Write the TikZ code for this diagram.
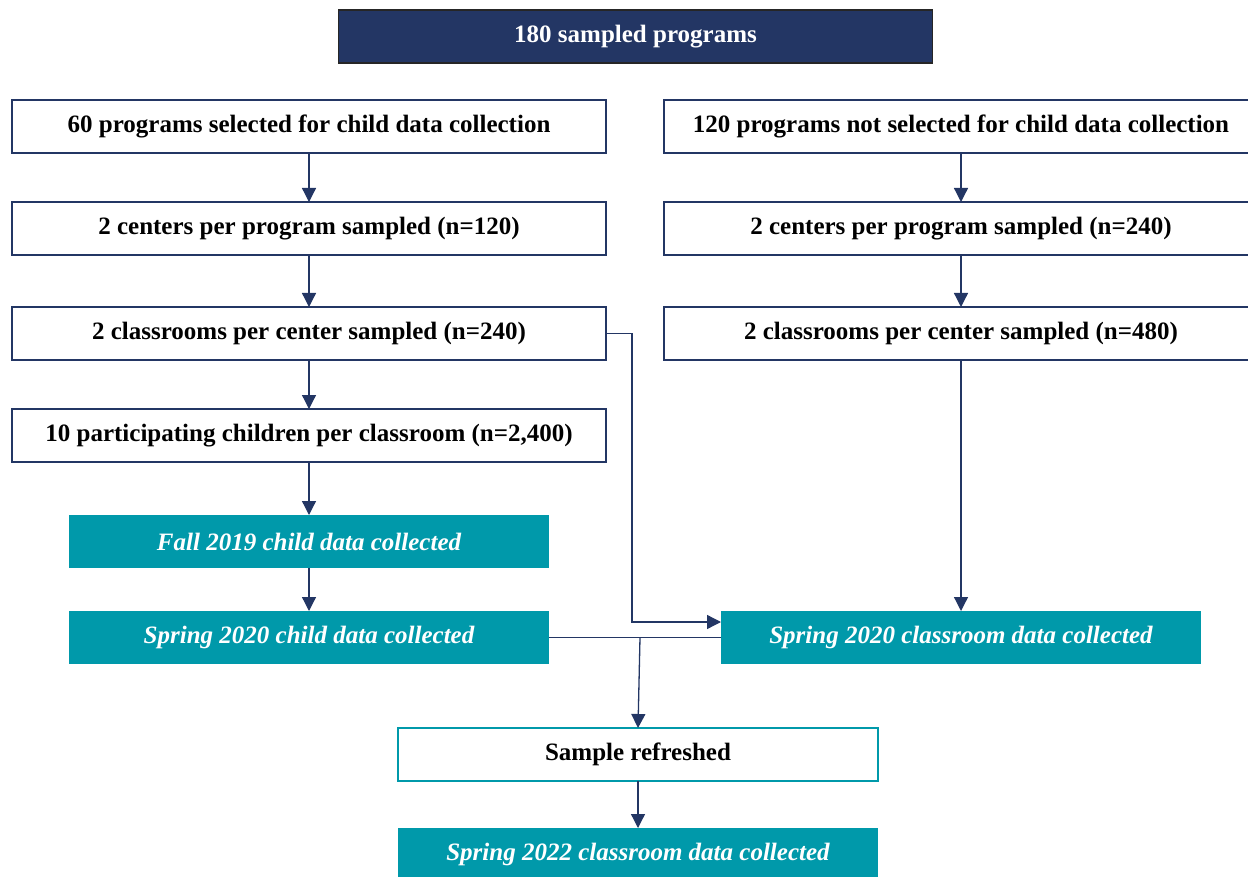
\documentclass[tikz,border=0pt]{standalone}
\usepackage{fontspec}
\setmainfont{Liberation Serif}
\usetikzlibrary{arrows.meta,positioning}
\definecolor{navy}{RGB}{35,54,100}
\definecolor{collteal}{RGB}{0,153,170}

\begin{document}
\begin{tikzpicture}[x=1pt,y=-1pt,>={Triangle[width=14pt,length=14pt]},
    every node/.style={font=\fontsize{25}{29}\selectfont\bfseries,inner sep=0pt,outer sep=0pt},
    prog/.style={draw=navy,line width=1.5pt,fill=white,minimum width=594pt,minimum height=53pt},
    head/.style={prog,draw=black!85,fill=navy,text=white},
    coll/.style={fill=collteal,text=white,font=\fontsize{25}{29}\selectfont\bfseries\itshape,
      minimum width=480pt,minimum height=53pt},
    refresh/.style={draw=collteal,line width=1.5pt,minimum width=480pt,minimum height=53pt},
    line/.style={draw=navy,line width=1.3pt},
    every edge/.style={line,->}]

  \useasboundingbox (0,0) rectangle (1248,877);

  \node[head] (0) at (635.5,36.5) {180 sampled programs};

  \node[prog] (1) at (309,126.5) {60 programs selected for child data collection};
  \node[prog] (2) [below=49pt of 1] {2 centers per program sampled (n=120)};
  \node[prog] (3) [below=52pt of 2] {2 classrooms per center sampled (n=240)};
  \node[prog] (4) [below=49pt of 3] {10 participating children per classroom (n=2,400)};
  \node[coll] (5) [below=53pt of 4] {Fall 2019 child data collected};
  \node[coll] (9) [below=43pt of 5] {Spring 2020 child data collected};

  \node[prog] (6) at (961,126.5) {120 programs not selected for child data collection};
  \node[prog] (7) [below=49pt of 6] {2 centers per program sampled (n=240)};
  \node[prog] (8) [below=52pt of 7] {2 classrooms per center sampled (n=480)};
  \node[coll] (10) [right=172pt of 9] {Spring 2020 classroom data collected};

  \node[refresh] (11) at (638,754.5) {Sample refreshed};
  \node[coll] (12) [below=47pt of 11] {Spring 2022 classroom data collected};

  \coordinate (j) at (640,637.5);

  \path (1) edge (2)
  (2) edge (3)
  (3) edge (4)
  (4) edge (5)
  (5) edge (9);
  \path (6) edge (7)
  (7) edge (8)
  (8) edge (10);
  \draw[line,->] (3.east) -- ++(26,0) |- ([yshift=15.5pt]10.west);
  \draw[line] (9) -- (10);
  \draw[line,->] (j) -- (11.north);
  \draw[line,->] (11) -- (12);

\end{tikzpicture}
\end{document}
